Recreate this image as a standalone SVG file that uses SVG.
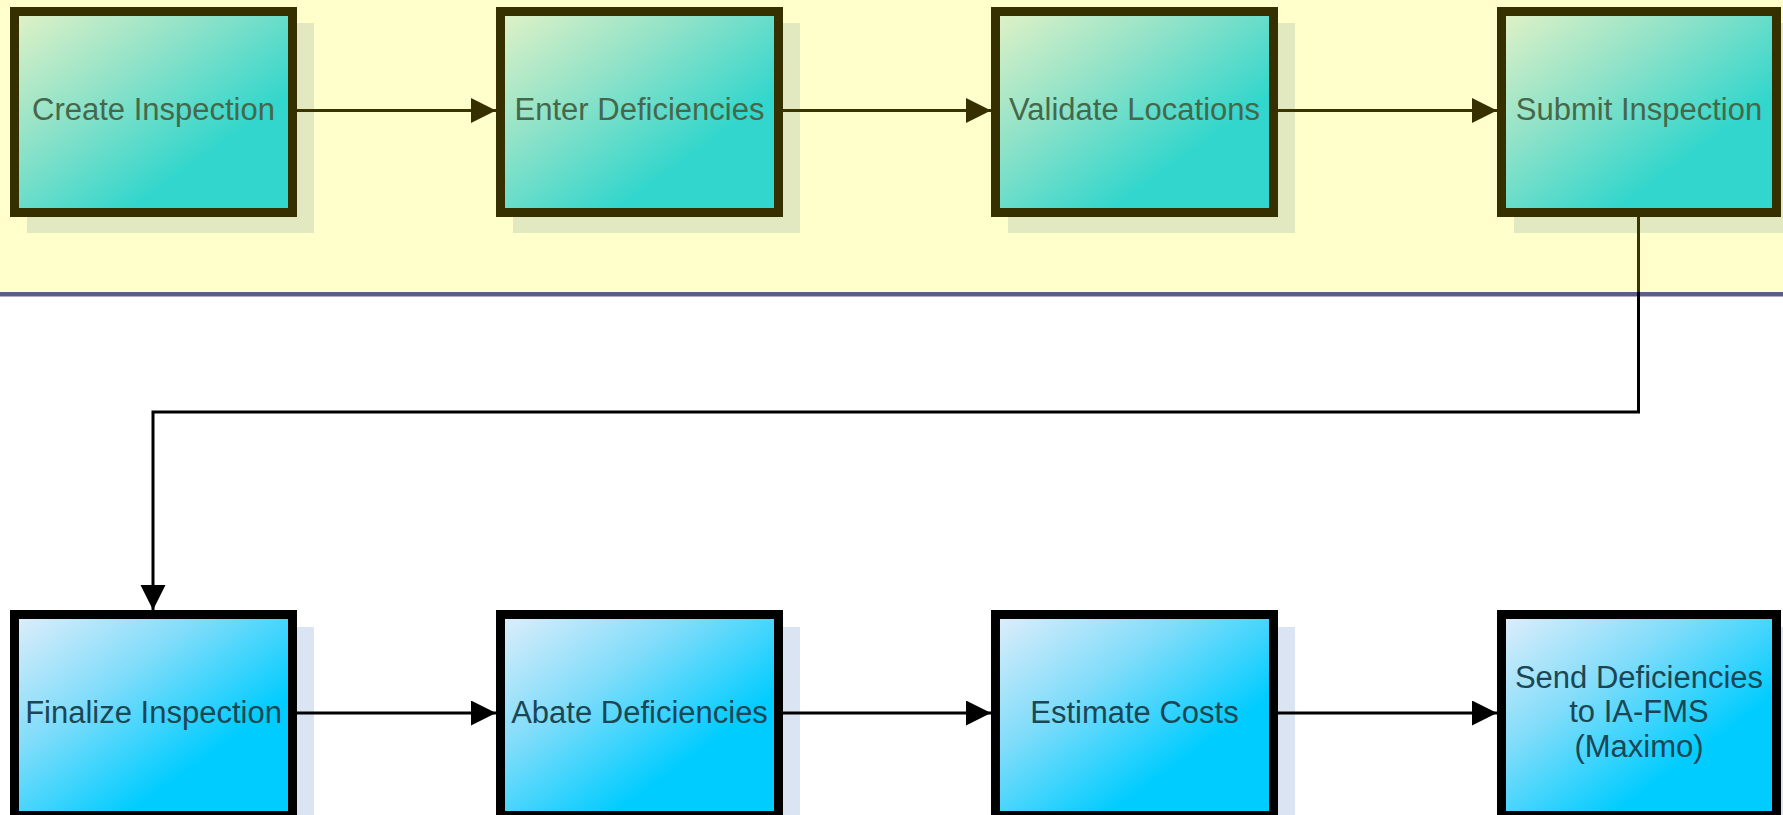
<svg xmlns="http://www.w3.org/2000/svg" width="1783" height="815" viewBox="0 0 1783 815">
<defs>
<linearGradient id="gTop" x1="0" y1="0" x2="1" y2="1">
<stop offset="0" stop-color="#e2f2c6"/>
<stop offset="0.35" stop-color="#8fe2c8"/>
<stop offset="0.7" stop-color="#33d6cc"/>
<stop offset="1" stop-color="#33d6cc"/>
</linearGradient>
<linearGradient id="gBot" x1="0" y1="0" x2="1" y2="1">
<stop offset="0" stop-color="#e0eefa"/>
<stop offset="0.35" stop-color="#7fdcfa"/>
<stop offset="0.7" stop-color="#00ccff"/>
<stop offset="1" stop-color="#00ccff"/>
</linearGradient>
<linearGradient id="gLink" gradientUnits="userSpaceOnUse" x1="0" y1="0" x2="0" y2="815">
<stop offset="0.358" stop-color="#3a3400"/>
<stop offset="0.358" stop-color="#000000"/>
</linearGradient>
<marker id="aTop" markerUnits="userSpaceOnUse" markerWidth="26" markerHeight="26" refX="25" refY="12.5" orient="auto" viewBox="0 0 26 26">
<path d="M0,0 L25,12.5 L0,25 Z" fill="#363000"/>
</marker>
<marker id="aBot" markerUnits="userSpaceOnUse" markerWidth="26" markerHeight="26" refX="25" refY="12.5" orient="auto" viewBox="0 0 26 26">
<path d="M0,0 L25,12.5 L0,25 Z" fill="#000000"/>
</marker>
<style>
.top rect.box{fill:url(#gTop);stroke:#363000;stroke-width:9}
.bot rect.box{fill:url(#gBot);stroke:#000000;stroke-width:9}
.top rect.sh{fill:#e2e8c0}
.bot rect.sh{fill:#dbe4f2}
text{font-family:"Liberation Sans",Arial,sans-serif;font-size:31px;text-anchor:middle}
.top text{fill:#46684a}
.bot text{fill:#1b4654}
.ct{fill:none;stroke:#3a3400;stroke-width:3;marker-end:url(#aTop)}
.cb{fill:none;stroke:#000000;stroke-width:3;marker-end:url(#aBot)}
</style>
</defs>
<rect x="0" y="0" width="1783" height="815" fill="#ffffff"/>
<rect x="0" y="0" width="1783" height="292" fill="#ffffcc"/>
<rect x="0" y="292" width="1783" height="4.5" fill="#5c5c8a"/>

<g id="n1" class="top">
<rect class="sh" x="27" y="23" width="287" height="210"/>
<rect class="box" x="14.5" y="11.5" width="278" height="201"/>
<text x="153.5" y="119.5">Create Inspection</text>
</g>
<g id="n2" class="top">
<rect class="sh" x="513" y="23" width="287" height="210"/>
<rect class="box" x="500.5" y="11.5" width="278" height="201"/>
<text x="639.5" y="119.5">Enter Deficiencies</text>
</g>
<g id="n3" class="top">
<rect class="sh" x="1008" y="23" width="287" height="210"/>
<rect class="box" x="995.5" y="11.5" width="278" height="201"/>
<text x="1134.5" y="119.5">Validate Locations</text>
</g>
<g id="n4" class="top">
<rect class="sh" x="1514" y="23" width="287" height="210"/>
<rect class="box" x="1501.5" y="11.5" width="275" height="201"/>
<text x="1639" y="119.5">Submit Inspection</text>
</g>

<g id="n5" class="bot">
<rect class="sh" x="27" y="627" width="287" height="210"/>
<rect class="box" x="14.5" y="614.5" width="278" height="201"/>
<text x="153.5" y="722.5">Finalize Inspection</text>
</g>
<g id="n6" class="bot">
<rect class="sh" x="513" y="627" width="287" height="210"/>
<rect class="box" x="500.5" y="614.5" width="278" height="201"/>
<text x="639.5" y="722.5">Abate Deficiencies</text>
</g>
<g id="n7" class="bot">
<rect class="sh" x="1008" y="627" width="287" height="210"/>
<rect class="box" x="995.5" y="614.5" width="278" height="201"/>
<text x="1134.5" y="722.5">Estimate Costs</text>
</g>
<g id="n8" class="bot">
<rect class="sh" x="1514" y="627" width="287" height="210"/>
<rect class="box" x="1501.5" y="614.5" width="275" height="201"/>
<text x="1639" y="687.5">Send Deficiencies</text>
<text x="1639" y="722">to IA-FMS</text>
<text x="1639" y="756.5">(Maximo)</text>
</g>

<g id="connectors">
<path class="ct" d="M297,110.5 H496"/>
<path class="ct" d="M783,110.5 H991"/>
<path class="ct" d="M1278,110.5 H1497"/>
<path class="cb" style="stroke:url(#gLink)" d="M1638.5,217 V412 H153 V610"/>
<path class="cb" d="M297,713 H496"/>
<path class="cb" d="M783,713 H991"/>
<path class="cb" d="M1278,713 H1497"/>
</g>
</svg>
